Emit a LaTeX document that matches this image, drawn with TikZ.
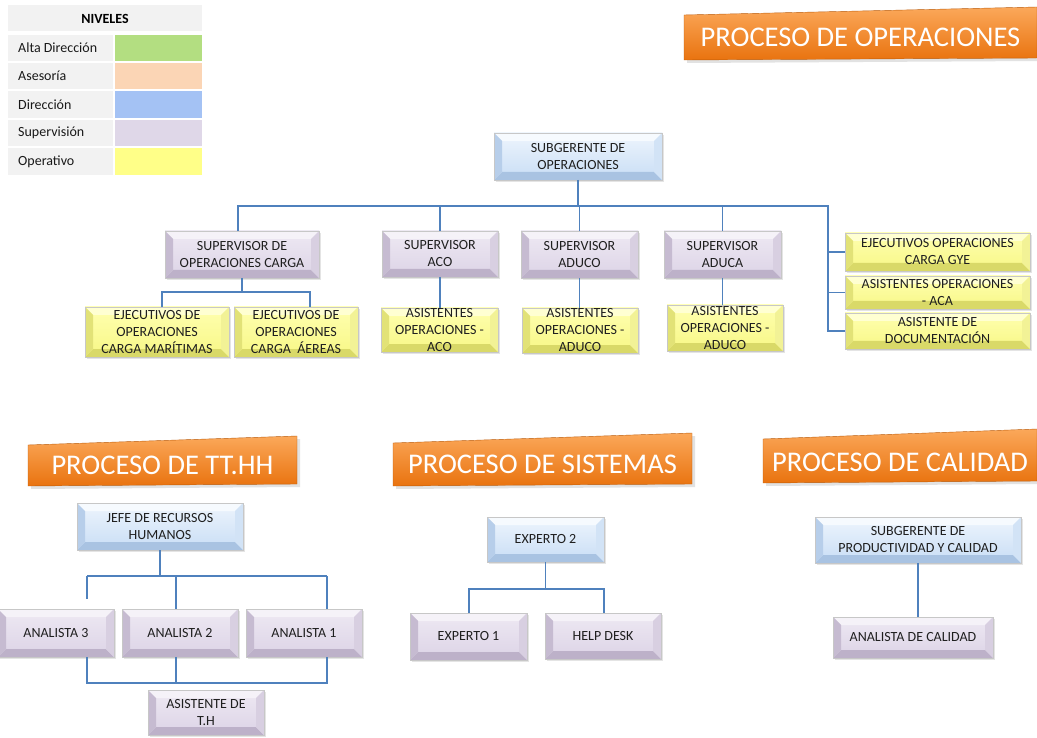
\documentclass[tikz,border=0pt]{standalone}
\usepackage{fontspec}
\setmainfont{Carlito}
\usetikzlibrary{calc}
% level colours
\definecolor{cAlta}{HTML}{B3DE81}
\definecolor{cAses}{HTML}{FBD5B5}
\definecolor{cDir}{HTML}{A4C2F4}
\definecolor{cSup}{HTML}{DFD7E8}
\definecolor{cOpe}{HTML}{FFFF88}
\definecolor{legGray}{HTML}{F2F2F2}
% bevel colours: F face top, G face bottom, T top, L left, R right, B bottom
\definecolor{lavF}{HTML}{EEE9F3}\definecolor{lavG}{HTML}{DCD3E6}
\definecolor{lavT}{HTML}{F5F2F8}\definecolor{lavL}{HTML}{C6BBD1}
\definecolor{lavR}{HTML}{D8CFE1}\definecolor{lavB}{HTML}{BDB1C9}
\definecolor{bluF}{HTML}{EEF5FD}\definecolor{bluG}{HTML}{C8DDF5}
\definecolor{bluT}{HTML}{F6FAFE}\definecolor{bluL}{HTML}{B7CEEA}
\definecolor{bluR}{HTML}{D2E3F6}\definecolor{bluB}{HTML}{A9C3E2}
\definecolor{yelF}{HTML}{FFFFB0}\definecolor{yelG}{HTML}{F7F785}
\definecolor{yelT}{HTML}{FFFFD2}\definecolor{yelL}{HTML}{E2E277}
\definecolor{yelR}{HTML}{F2F296}\definecolor{yelB}{HTML}{D9D968}
\definecolor{connBlue}{HTML}{4F81BD}
\definecolor{orgTop}{HTML}{FBA85A}
\definecolor{orgBot}{HTML}{E9730F}
\newlength\bw
\setlength\bw{8pt}
\tikzset{
  bev/.style={rectangle, draw=black!22, line width=0.5pt, align=center,
    inner sep=0pt, outer sep=0pt, text=black!88,
    font=\fontsize{14}{17}\selectfont,
    path picture={
      \coordinate (pnw) at (path picture bounding box.north west);
      \coordinate (pne) at (path picture bounding box.north east);
      \coordinate (psw) at (path picture bounding box.south west);
      \coordinate (pse) at (path picture bounding box.south east);
      \shade[top color=#1F, bottom color=#1G] (pnw) rectangle (pse);
      \fill[#1T] (pnw) -- (pne) -- ($(pne)+(-\bw,-\bw)$) -- ($(pnw)+(\bw,-\bw)$) -- cycle;
      \fill[#1B] (psw) -- (pse) -- ($(pse)+(-\bw,\bw)$) -- ($(psw)+(\bw,\bw)$) -- cycle;
      \fill[#1L] (pnw) -- ($(pnw)+(\bw,-\bw)$) -- ($(psw)+(\bw,\bw)$) -- (psw) -- cycle;
      \fill[#1R] (pne) -- ($(pne)+(-\bw,-\bw)$) -- ($(pse)+(-\bw,\bw)$) -- (pse) -- cycle;
    }},
  conn/.style={draw=connBlue, line width=1.5pt},
  shadowbox/.style={fill=black!30, opacity=0.35},
  titletext/.style={text=white, font=\fontsize{28.5}{31}\selectfont, inner sep=0pt},
  legtext/.style={anchor=west, font=\fontsize{14}{16}\selectfont, text=black!90, inner sep=0pt},
  banner/.style={top color=orgTop, bottom color=orgBot, draw=orgBot!80!black, line width=0.4pt},
  bannershadow/.style={fill=black!45, opacity=0.25}
}
\newcommand\orgbox[7]{%
  \fill[shadowbox] ({#2+2},{#3+2}) rectangle ({#4+2},{#5+2});
  \node[bev=#6, minimum width={(#4-#2)*1pt}, minimum height={(#5-#3)*1pt}]
    (#1) at ({(#2+#4)/2},{(#3+#5)/2}) {#7};}
\newcommand\bannerat[9]{% name, x1,y1 (top-left), x2,y2 (top-right), y3 (bottom-right), y4 (bottom-left), text, text y
  \fill[bannershadow] ({#2+3},{#3+3}) -- ({#4+3},{#5+3}) -- ({#4+3},{#6+3}) -- ({#2+3},{#7+3}) -- cycle;
  \shade[banner] (#2,#3) -- (#4,#5) -- (#4,#6) -- (#2,#7) -- cycle;
  \node[titletext] (#1) at ({(#2+#4)/2},#9) {#8};}
\begin{document}
\begin{tikzpicture}[x=1pt,y=-1pt]
\useasboundingbox (0,0) rectangle (1037,738);
\fill[white] (0,0) rectangle (1037,738);

% ---------------- legend ----------------
\fill[legGray] (8,5) rectangle (202,31);
\node[font=\fontsize{14}{16}\selectfont\bfseries, inner sep=0pt] (niv) at (105,18.5) {NIVELES};
\fill[legGray] (8,35) rectangle (113,61);  \fill[cAlta] (115,35) rectangle (202,61);
\fill[legGray] (8,63) rectangle (113,89);  \fill[cAses] (115,63) rectangle (202,89);
\fill[legGray] (8,91) rectangle (113,118); \fill[cDir]  (115,91) rectangle (202,118);
\fill[legGray] (8,120) rectangle (113,146);\fill[cSup]  (115,120) rectangle (202,146);
\fill[legGray] (8,148) rectangle (113,175);\fill[cOpe]  (115,148) rectangle (202,175);
\node[legtext] (l1) at (18,48)  {Alta Dirección};
\node[legtext] (l2) at (18,76)  {Asesoría};
\node[legtext] (l3) at (18,104.5) {Dirección};
\node[legtext] (l4) at (18,133) {Supervisión};
\node[legtext] (l5) at (18,161.5) {Operativo};

% ---------------- banners ----------------
\bannerat{tops}{684}{15}{1037}{7}{58}{60}{PROCESO DE OPERACIONES}{37}
\bannerat{ttth}{28}{445}{297}{436}{484}{486}{PROCESO DE TT.HH}{465}
\bannerat{tsis}{393}{443}{692}{433}{484}{486}{PROCESO DE SISTEMAS}{464}
\bannerat{tcal}{763}{439}{1037}{429}{481}{483}{PROCESO DE CALIDAD}{462}

% ---------------- operaciones ----------------
\orgbox{sub}{494}{133}{662}{180}{blu}{SUBGERENTE DE\\OPERACIONES}
\orgbox{sc}{165}{231}{319}{278}{lav}{SUPERVISOR DE\\OPERACIONES CARGA}
\orgbox{saco}{382}{231}{498}{277}{lav}{SUPERVISOR\\ACO}
\orgbox{saduco}{521}{231}{638}{278}{lav}{SUPERVISOR\\ADUCO}
\orgbox{saduca}{664}{231}{781}{278}{lav}{SUPERVISOR\\ADUCA}
\orgbox{gye}{845}{233}{1030}{271}{yel}{EJECUTIVOS OPERACIONES\\CARGA GYE}
\orgbox{aca}{845}{276}{1030}{309}{yel}{ASISTENTES OPERACIONES\\- ACA}
\orgbox{doc}{845}{313}{1030}{349}{yel}{ASISTENTE DE\\DOCUMENTACIÓN}
\orgbox{mar}{85}{307}{229}{357}{yel}{EJECUTIVOS DE\\OPERACIONES\\CARGA MARÍTIMAS}
\orgbox{aer}{234}{307}{358}{357}{yel}{EJECUTIVOS DE\\OPERACIONES\\CARGA\ \ ÁEREAS}
\orgbox{aaco}{381}{308}{498}{352}{yel}{ASISTENTES\\OPERACIONES -\\ACO}
\orgbox{aaduco}{522}{308}{638}{353}{yel}{ASISTENTES\\OPERACIONES -\\ADUCO}
\orgbox{aaduca}{667}{305}{783}{351}{yel}{ASISTENTES\\OPERACIONES -\\ADUCO}

\coordinate (obL) at (238,206);
\coordinate (obR) at (828,206);
\coordinate (cbL) at (162,292);
\coordinate (cbR) at (310,292);
\draw[conn] (sub.south) -- (sub.south |- obR);
\draw[conn] (obL |- sc.north) -- (obL) -- (obR) -- (obR |- doc.west) -- (doc.west);
\draw[conn] (obR |- gye.west) -- (gye.west);
\draw[conn] (obR |- aca.west) -- (aca.west);
\draw[conn] (saco.north) -- (saco.north |- obR);
\draw[conn] (saduco.north) -- (saduco.north |- obR);
\draw[conn] (saduca.north) -- (saduca.north |- obR);
\draw[conn] (sc.south) -- (sc.south |- cbL);
\draw[conn] (cbL |- mar.north) -- (cbL) -- (cbR) -- (cbR |- aer.north);
\draw[conn] (saco.south) -- (saco.south |- aaco.north);
\draw[conn] (saduco.south) -- (saduco.south |- aaduco.north);
\draw[conn] (saduca.south) -- (saduca.south |- aaduca.north);

% ---------------- TT.HH ----------------
\orgbox{jefe}{77}{503}{243}{550}{blu}{JEFE DE RECURSOS\\HUMANOS}
\orgbox{an3}{-2}{609}{114}{657}{lav}{ANALISTA 3}
\orgbox{an2}{122}{609}{238}{657}{lav}{ANALISTA 2}
\orgbox{an1}{246}{609}{362}{657}{lav}{ANALISTA 1}
\orgbox{ath}{148}{690}{264}{735}{lav}{ASISTENTE DE\\T.H}
\coordinate (tL) at (87,576);
\coordinate (tR) at (327,576);
\coordinate (tM) at (176,576);
\coordinate (uL) at (87,683);
\coordinate (uR) at (327,683);
\draw[conn] (jefe.south) -- (jefe.south |- tL);
\draw[conn] (tL) -- (tR);
\draw[conn, shorten >=10pt] (tL) -- (tL |- an3.north);
\draw[conn] (tR) -- (tR |- an1.north);
\draw[conn] (tM) -- (tM |- an2.north);
\draw[conn] (uL |- an3.south) -- (uL) -- (uR) -- (uR |- an1.south);
\draw[conn] (tM |- an2.south) -- (tM |- uL);

% ---------------- sistemas ----------------
\orgbox{exp2}{487}{517}{604}{562}{blu}{EXPERTO 2}
\orgbox{exp1}{410}{613}{527}{660}{lav}{EXPERTO 1}
\orgbox{help}{545}{613}{661}{659}{lav}{HELP DESK}
\coordinate (sL) at (469,589);
\coordinate (sR) at (604,589);
\draw[conn] (exp2.south) -- (exp2.south |- sL);
\draw[conn] (sL |- exp1.north) -- (sL) -- (sR) -- (sR |- help.north);

% ---------------- calidad ----------------
\orgbox{sgc}{815}{517}{1021}{563}{blu}{SUBGERENTE DE\\PRODUCTIVIDAD Y CALIDAD}
\orgbox{anc}{833}{617}{993}{658}{lav}{ANALISTA DE CALIDAD}
\draw[conn] (sgc.south) -- (sgc.south |- anc.north);
\end{tikzpicture}
\end{document}
